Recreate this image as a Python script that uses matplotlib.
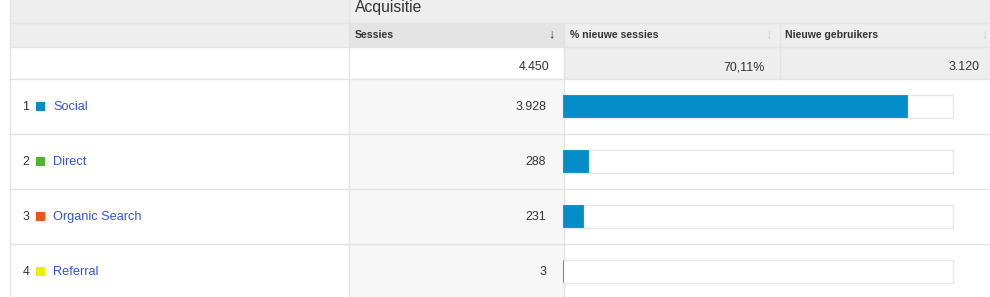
import matplotlib.pyplot as plt
from matplotlib.patches import Rectangle

# table data
channels = ['Social', 'Direct', 'Organic Search', 'Referral']
channel_colors = ['#058dc7', '#50b432', '#ed561b', '#edef00']
sessies = [3928, 288, 231, 3]
sessies_labels = ['3.928', '288', '231', '3']
total_sessies = 4450
total_label = '4.450'
pct_new_total = '70,11%'
new_users_total = '3.120'
headers = ['Sessies', '% nieuwe sessies', 'Nieuwe gebruikers']

plt.rcParams['font.family'] = ['Liberation Sans', 'DejaVu Sans']

W, H = 990, 297
fig = plt.figure(figsize=(W / 100, H / 100), dpi=100)
ax = fig.add_axes([0, 0, 1, 1])
ax.set_xlim(0, W)
ax.set_ylim(H, 0)
ax.axis('off')

line_c = '#e3e3e3'
text_c = '#333333'
link_c = '#3552d2'

# column edges (pixels)
x0, x1, x2, x3, x4 = 10, 348.5, 563.5, 779.5, 990
row_top = 78.5
row_h = 55

def box(x, y, w, h, fc):
    ax.add_patch(Rectangle((x, y), w, h, facecolor=fc, edgecolor='none', zorder=0))

# top band
box(x0, 0, x4 - x0, 22.5, '#eeeeee')
# header row
box(x0, 22.5, x1 - x0, 24, '#eeeeee')
box(x1, 22.5, x2 - x1, 24, '#e4e4e4')
box(x2, 22.5, x4 - x2, 24, '#eeeeee')
# totals row
box(x0, 46.5, x2 - x0, 32, 'white')
box(x2, 46.5, x4 - x2, 32, '#eeeeee')
# data rows: sessies column shaded
box(x1, row_top, x2 - x1, H - row_top, '#f7f7f7')

# grid lines
for y in [22.5, 46.5, row_top] + [row_top + row_h * (i + 1) for i in range(len(channels) - 1)]:
    ax.plot([x0, x4], [y, y], color=line_c, lw=1, zorder=1)
ax.plot([x0, x0], [0, H], color=line_c, lw=1, zorder=1)
ax.plot([x1, x1], [0, H], color=line_c, lw=1, zorder=1)
ax.plot([x2, x2], [22.5, H], color=line_c, lw=1, zorder=1)
ax.plot([x3, x3], [22.5, row_top], color=line_c, lw=1, zorder=1)

# headers
ax.text(355, 11.7, 'Acquisitie', fontsize=11.3, color=text_c, va='baseline', ha='left')
hx = [355, 570, 785]
arrow_x = [551.5, 768, 984]
for i, h in enumerate(headers):
    ax.text(hx[i], 37.5, h, fontsize=7.6, fontweight='bold', color=text_c, va='baseline', ha='left')
    ax.text(arrow_x[i], 34, '\u2193', fontsize=9, fontweight='bold',
            color=text_c if i == 0 else '#c8c8c8', va='center', ha='center')

# totals
ax.text(549, 70.5, total_label, fontsize=8.9, color=text_c, va='baseline', ha='right')
ax.text(765, 70.5, pct_new_total, fontsize=8.9, color=text_c, va='baseline', ha='right')
ax.text(979.5, 70.5, new_users_total, fontsize=8.9, color=text_c, va='baseline', ha='right')

# data rows
bar_left, bar_w, bar_h = 562.5, 390.5, 23
centers = [row_top + row_h * i + row_h / 2 for i in range(len(channels))]
for i, (name, col) in enumerate(zip(channels, channel_colors)):
    base = row_top + row_h * i + 31.5
    ax.text(22.5, base, str(i + 1), fontsize=8.9, color=text_c, va='baseline', ha='left')
    ax.add_patch(Rectangle((36, base - 8), 9.3, 9, facecolor=col, edgecolor='none', zorder=2))
    ax.text(53, base, name, fontsize=9.2, color=link_c, va='baseline', ha='left')
    ax.text(546, base, sessies_labels[i], fontsize=8.9, color=text_c, va='baseline', ha='right')

# bar outlines and fills
ax.barh(centers, [bar_w] * len(channels), height=bar_h, left=bar_left,
        color='white', edgecolor='#e6e6e6', lw=1, zorder=2)
ax.barh(centers, [s / total_sessies * bar_w for s in sessies], height=bar_h - 1.5,
        left=bar_left, color='#058dc7', edgecolor='#058dc7', lw=0.6, zorder=3)

fig.savefig('out.png', dpi=100)
